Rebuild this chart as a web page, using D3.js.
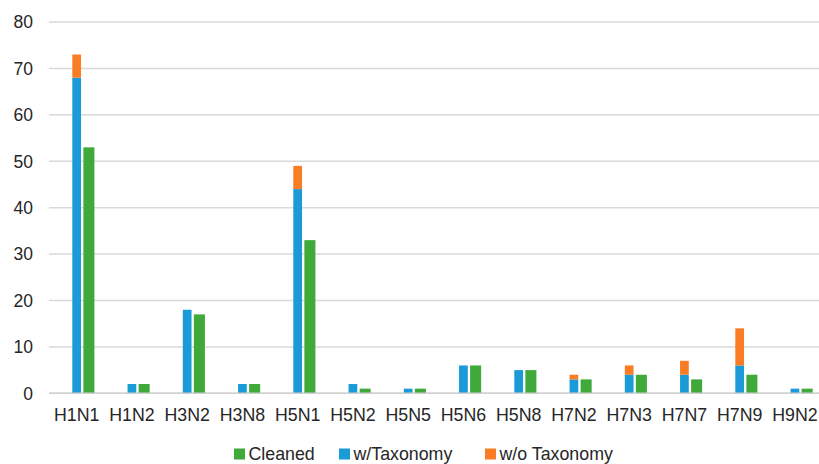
<!DOCTYPE html>
<html><head><meta charset="utf-8">
<script src="https://cdn.jsdelivr.net/npm/d3@7"></script>
<style>html,body{margin:0;padding:0;background:#fff;}svg{display:block;}</style>
</head><body>
<script>
const categories = ["H1N1","H1N2","H3N2","H3N8","H5N1","H5N2","H5N5","H5N6","H5N8","H7N2","H7N3","H7N7","H7N9","H9N2"];
const withTaxonomy = [68,2,18,2,44,2,1,6,5,3,4,4,6,1];
const withoutTaxonomy = [5,0,0,0,5,0,0,0,0,1,2,3,8,0];
const cleaned = [53,2,17,2,33,1,1,6,5,3,4,3,4,1];
const yTicks = [0,10,20,30,40,50,60,70,80];
const legendItems = [
  {label:"Cleaned", color:"#3FAA3A"},
  {label:"w/Taxonomy", color:"#1A9AD6"},
  {label:"w/o Taxonomy", color:"#FA7D25"}
];

const W = 819, H = 464;
const svg = d3.select("body").append("svg").attr("width", W).attr("height", H);
const font = "'Liberation Sans', Arial, sans-serif";

const x = d3.scaleBand().domain(categories).range([49.1, 822.6]).padding(0);
const y = d3.scaleLinear().domain([0, 80]).range([393.3, 22]);
const step = x.step();

// gridlines
svg.append("g").selectAll("line").data(yTicks).join("line")
  .attr("x1", 49).attr("x2", W)
  .attr("y1", d => y(d)).attr("y2", d => y(d))
  .attr("stroke", "#d9d9d9").attr("stroke-width", 1.5);

// y tick labels
svg.append("g").selectAll("text").data(yTicks).join("text")
  .attr("x", 33).attr("y", d => y(d)).attr("dy", "0.36em")
  .attr("text-anchor", "end")
  .attr("font-family", font).attr("font-size", 17.5).attr("fill", "#262626")
  .text(d => d);

const blueOff = 0.42 * step, blueW = 0.158 * step;
const greenOff = 0.62 * step, greenW = 0.2 * step;

const gBars = svg.append("g");
gBars.selectAll("rect.blue").data(categories).join("rect").attr("class","blue")
  .attr("x", d => x(d) + blueOff).attr("width", blueW)
  .attr("y", (d,i) => y(withTaxonomy[i]))
  .attr("height", (d,i) => y(0) - y(withTaxonomy[i]))
  .attr("fill", legendItems[1].color);
gBars.selectAll("rect.orange").data(categories).join("rect").attr("class","orange")
  .attr("x", d => x(d) + blueOff).attr("width", blueW)
  .attr("y", (d,i) => y(withTaxonomy[i] + withoutTaxonomy[i]))
  .attr("height", (d,i) => y(withTaxonomy[i]) - y(withTaxonomy[i] + withoutTaxonomy[i]))
  .attr("fill", legendItems[2].color);
gBars.selectAll("rect.green").data(categories).join("rect").attr("class","green")
  .attr("x", d => x(d) + greenOff).attr("width", greenW)
  .attr("y", (d,i) => y(cleaned[i]))
  .attr("height", (d,i) => y(0) - y(cleaned[i]))
  .attr("fill", legendItems[0].color);

svg.append("line").attr("x1", 49).attr("x2", W).attr("y1", y(0)).attr("y2", y(0))
  .attr("stroke", "#d0d0d0").attr("stroke-width", 1.5);

svg.append("g").selectAll("text").data(categories).join("text")
  .attr("x", d => x(d) + step/2).attr("y", 421)
  .attr("text-anchor", "middle")
  .attr("font-family", font).attr("font-size", 17.8).attr("fill", "#262626")
  .text(d => d);

const legendX = [234, 339, 485];
const lg = svg.append("g");
legendItems.forEach((it, i) => {
  lg.append("rect").attr("x", legendX[i]).attr("y", 448.5).attr("width", 11).attr("height", 11).attr("fill", it.color);
  lg.append("text").attr("x", legendX[i] + 14.5).attr("y", 460)
    .attr("font-family", font).attr("font-size", 17.8).attr("fill", "#262626").text(it.label);
});
</script>
</body></html>
